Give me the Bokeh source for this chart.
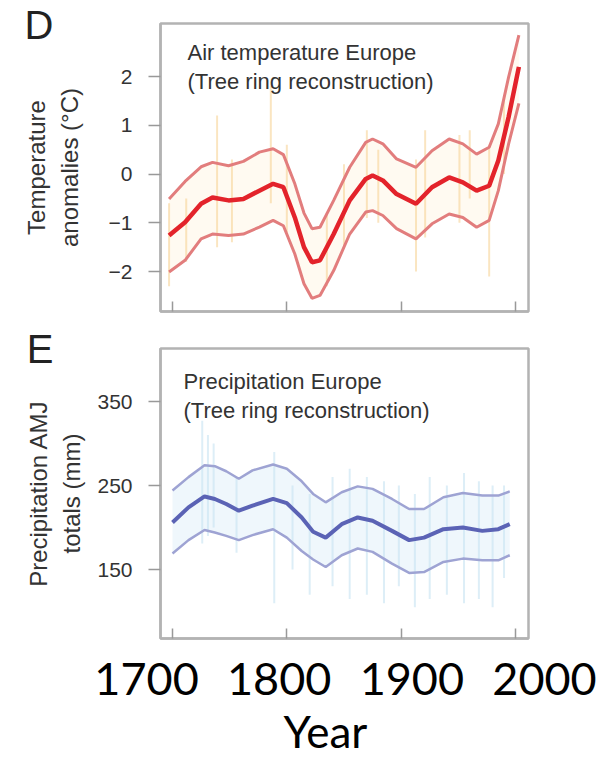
from bokeh.plotting import figure
from bokeh.layouts import column
from bokeh.models import Range1d, Label, FixedTicker, LinearAxis
from bokeh.embed import file_html
from bokeh.resources import INLINE

# ---------------- data: panel D (air temperature) ----------------
temp_years = [1697, 1711, 1725, 1735, 1749, 1762, 1776, 1788, 1797, 1807, 1815, 1822, 1829,
              1841, 1855, 1869, 1875, 1884, 1896, 1913, 1927, 1942, 1954, 1966, 1977, 1985,
              1994, 2003]
temp_mean = [-1.26, -0.99, -0.61, -0.48, -0.54, -0.51, -0.34, -0.20, -0.27, -0.89, -1.50, -1.81,
             -1.77, -1.23, -0.54, -0.10, -0.03, -0.13, -0.41, -0.61, -0.27, -0.07, -0.17, -0.34,
             -0.24, 0.28, 1.17, 2.20]
temp_upper = [-0.51, -0.15, 0.15, 0.24, 0.17, 0.26, 0.45, 0.52, 0.40, -0.20, -0.80, -1.12,
              -1.09, -0.54, 0.14, 0.65, 0.72, 0.62, 0.31, 0.14, 0.48, 0.72, 0.62, 0.41,
              0.55, 1.03, 1.99, 2.85]
temp_lower = [-2.01, -1.77, -1.33, -1.23, -1.26, -1.23, -1.09, -0.95, -1.06, -1.64, -2.25, -2.55,
              -2.49, -1.98, -1.23, -0.78, -0.75, -0.85, -1.12, -1.33, -1.02, -0.82, -0.89, -1.09,
              -0.95, -0.34, 0.62, 1.45]
# faint annual extremes (streaks)
temp_streak_years = [1697, 1712, 1739, 1752, 1786, 1800, 1835, 1850, 1870, 1880, 1913, 1921,
                     1951, 1960, 1977, 1990]
temp_streak_hi = [-0.6, -0.5, 1.2, 0.3, 1.8, 0.6, -0.8, 0.2, 0.9, 0.5, 0.3, 0.9, 0.8, 0.9, 0.6, 1.6]
temp_streak_lo = [-2.3, -1.8, -1.5, -1.4, -0.6, -1.2, -2.3, -1.5, -0.9, -1.0, -2.0, -1.3, -1.0,
                  -0.5, -2.1, 0.0]
temp_ticks = [-2, -1, 0, 1, 2]

# ---------------- data: panel E (precipitation) ----------------
prec_years = [1700, 1714, 1728, 1737, 1747, 1758, 1770, 1788, 1800, 1813, 1823, 1834, 1848,
              1862, 1875, 1892, 1907, 1920, 1937, 1954, 1971, 1985, 1995]
prec_mean = [206, 224, 237, 234, 228, 220, 226, 234, 229, 212, 195, 188, 204, 212, 208, 196,
             185, 188, 198, 200, 196, 198, 204]
prec_upper = [244, 260, 274, 273, 267, 258, 268, 275, 270, 255, 240, 230, 242, 249, 246, 234,
              222, 222, 236, 241, 238, 238, 243]
prec_lower = [169, 185, 197, 194, 190, 185, 191, 198, 188, 172, 162, 153, 167, 175, 171, 157,
              146, 147, 159, 163, 161, 161, 167]
prec_streak_years = [1726, 1731, 1736, 1756, 1789, 1805, 1820, 1840, 1855, 1870, 1885, 1898,
                     1912, 1925, 1940, 1955, 1968, 1980, 1990]
prec_streak_hi = [327, 310, 300, 260, 290, 250, 240, 260, 270, 260, 255, 250, 240, 260, 250,
                  265, 255, 250, 250]
prec_streak_lo = [181, 190, 200, 170, 110, 150, 120, 130, 115, 120, 110, 130, 105, 115, 120,
                  110, 115, 105, 140]
prec_ticks = [150, 250, 350]

year_ticks = [1700, 1800, 1900, 2000]
panel_letters = ["D", "E"]
letter_ticks = [3.06, 413.05]

FONT = "Liberation Sans"
TXT = "#333333"
FRAME = "#b3b3b3"


def style_panel(p, yticks, ylabel, letter, letter_tick, letter_standoff, label_standoff):
    p.grid.visible = False
    p.outline_line_color = FRAME
    p.outline_line_width = 2.5
    p.background_fill_color = "white"
    p.border_fill_color = "white"
    ya = p.yaxis[0]
    ya.ticker = FixedTicker(ticks=yticks)
    ya.major_tick_out = 12
    ya.major_tick_in = 0
    ya.minor_tick_line_color = None
    ya.major_tick_line_color = "#999999"
    ya.major_tick_line_width = 1.5
    ya.axis_line_color = FRAME
    ya.axis_line_width = 2.5
    ya.major_label_standoff = 16
    ya.major_label_text_font = FONT
    ya.major_label_text_font_size = "21px"
    ya.major_label_text_color = TXT
    # outer axis: carries the panel letter and the two-line axis title
    outer = LinearAxis(ticker=FixedTicker(ticks=[letter_tick]),
                       major_label_overrides={letter_tick: letter})
    outer.axis_line_color = None
    outer.major_tick_line_color = None
    outer.minor_tick_line_color = None
    outer.major_tick_out = 0
    outer.major_tick_in = 0
    outer.major_label_standoff = letter_standoff
    outer.major_label_text_font = FONT
    outer.major_label_text_font_size = "40px"
    outer.major_label_text_color = "#222222"
    outer.axis_label = ylabel
    outer.axis_label_text_font = FONT
    outer.axis_label_text_font_size = "24px"
    outer.axis_label_text_font_style = "normal"
    outer.axis_label_text_color = TXT
    outer.axis_label_standoff = label_standoff
    p.add_layout(outer, "left")
    xa = p.xaxis[0]
    xa.ticker = FixedTicker(ticks=year_ticks)
    xa.major_tick_in = 10
    xa.major_tick_out = 0
    xa.minor_tick_line_color = None
    xa.major_tick_line_color = "#999999"
    xa.major_tick_line_width = 1.5
    xa.axis_line_color = FRAME
    xa.axis_line_width = 2.5
    xa.major_label_text_font_size = "1px"
    xa.major_label_text_color = None
    xa.major_label_standoff = 0


# ---------------- panel D ----------------
p1 = figure(width=615, height=314, x_range=Range1d(1689.5, 2011.4), y_range=Range1d(-2.82, 3.09),
            output_backend="svg", toolbar_location=None,
            min_border_left=160, min_border_right=87, min_border_top=23, min_border_bottom=3)
style_panel(p1, temp_ticks, "Temperature\nanomalies (°C)", panel_letters[0], letter_ticks[0], 52, -61)
p1.varea(x=temp_years, y1=temp_lower, y2=temp_upper, fill_color="#fff5e3", fill_alpha=0.5)
p1.segment(x0=temp_streak_years, y0=temp_streak_lo, x1=temp_streak_years, y1=temp_streak_hi,
           line_color="#f5cf8e", line_width=2, line_alpha=0.55)
p1.line(temp_years, temp_upper, line_color="#e27d7d", line_width=3)
p1.line(temp_years, temp_lower, line_color="#e27d7d", line_width=3)
p1.line(temp_years, temp_mean, line_color="#e3232b", line_width=4.5)
p1.add_layout(Label(x=27, y=272, x_units="screen", y_units="screen",
                    text="Air temperature Europe\n(Tree ring reconstruction)",
                    text_font=FONT, text_font_size="22px", text_color=TXT,
                    text_baseline="top", text_align="left", text_line_height=1.18))

# ---------------- panel E ----------------
p2 = figure(width=615, height=328, x_range=p1.x_range, y_range=Range1d(67.9, 413.1),
            output_backend="svg", toolbar_location=None,
            min_border_left=160, min_border_right=87, min_border_top=34, min_border_bottom=4)
style_panel(p2, prec_ticks, "Precipitation AMJ\ntotals (mm)", panel_letters[1], letter_ticks[1], 41, -61)
p2.varea(x=prec_years, y1=prec_lower, y2=prec_upper, fill_color="#edf6fc", fill_alpha=0.9)
p2.segment(x0=prec_streak_years, y0=prec_streak_lo, x1=prec_streak_years, y1=prec_streak_hi,
           line_color="#c6e2f2", line_width=2, line_alpha=0.6)
p2.line(prec_years, prec_upper, line_color="#9ea3d3", line_width=2.5)
p2.line(prec_years, prec_lower, line_color="#9ea3d3", line_width=2.5)
p2.line(prec_years, prec_mean, line_color="#5b63b5", line_width=4)
p2.add_layout(Label(x=23, y=270, x_units="screen", y_units="screen",
                    text="Precipitation Europe\n(Tree ring reconstruction)",
                    text_font=FONT, text_font_size="22px", text_color=TXT,
                    text_baseline="top", text_align="left", text_line_height=1.18))

# ---------------- shared big year axis ----------------
p3 = figure(width=615, height=117, x_range=Range1d(1616.3, 2053.5), y_range=Range1d(0, 1),
            output_backend="svg", toolbar_location=None,
            min_border_left=35, min_border_right=0, min_border_top=0, min_border_bottom=103)
p3.grid.visible = False
p3.outline_line_color = None
p3.yaxis.visible = False
xa = p3.xaxis[0]
xa.ticker = FixedTicker(ticks=year_ticks)
xa.axis_line_color = None
xa.major_tick_line_color = None
xa.minor_tick_line_color = None
xa.major_label_standoff = 6
xa.major_label_text_font = "Lato"
xa.major_label_text_font_size = "45px"
xa.major_label_text_color = "black"
xa.axis_label = "Year"
xa.axis_label_text_font = "Lato"
xa.axis_label_text_font_size = "44px"
xa.axis_label_text_font_style = "normal"
xa.axis_label_text_color = "black"
xa.axis_label_standoff = 7

layout = column(column(p1, p2), p3)
open("out.html", "w").write(file_html(layout, INLINE))
